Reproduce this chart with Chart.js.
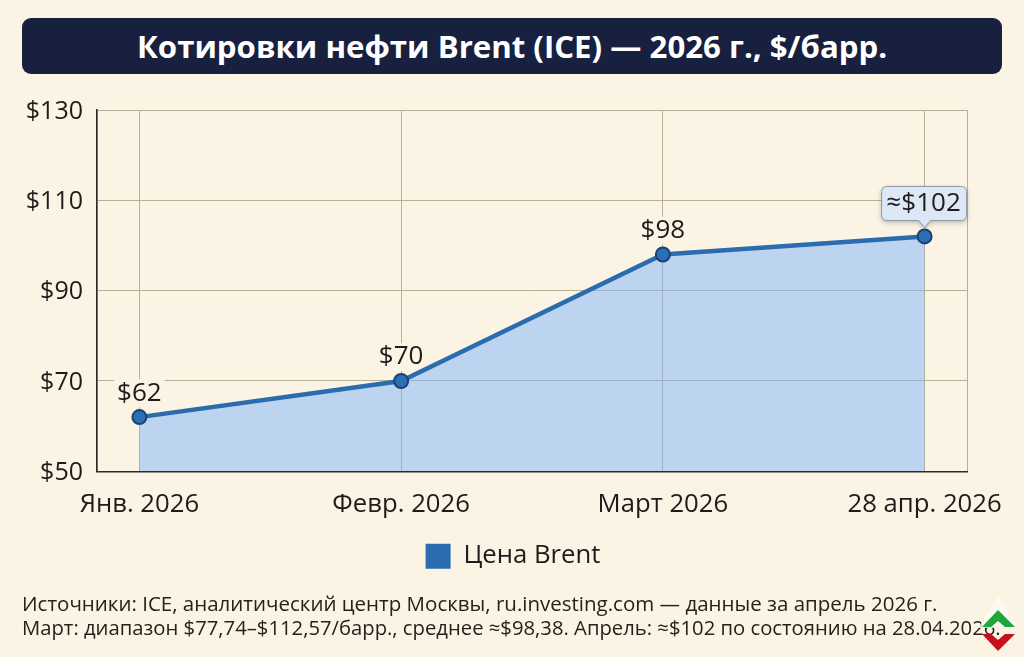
<!DOCTYPE html>
<html lang="ru">
<head>
    <meta charset="UTF-8">
    <title>Котировки нефти Brent (ICE)</title>
    <script src="https://cdn.jsdelivr.net/npm/chart.js"></script>
    <style>
        html, body {
            margin: 0;
            padding: 0;
            background: #fbf4e4;
            font-family: "Open Sans", sans-serif;
            overflow: hidden;
        }
        .page {
            position: relative;
            width: 1024px;
            height: 657px;
        }
        .banner {
            position: absolute;
            left: 22px;
            top: 18px;
            width: 980px;
            height: 56px;
            line-height: 56px;
            border-radius: 9px;
            background: #18203f;
            color: #fff;
            font-size: 31.2px;
            font-weight: 700;
            text-align: center;
        }
        .chart-box {
            position: absolute;
            left: 0;
            top: 0;
            width: 1024px;
            height: 590px;
        }
        .notes {
            position: absolute;
            left: 22px;
            top: 591px;
            font-size: 20.5px;
            line-height: 24px;
            color: #24221d;
            white-space: nowrap;
        }
        .notes span {
            font-size: 20.25px;
        }
        .badge {
            position: absolute;
            left: 0;
            top: 0;
        }
    </style>
</head>
<body>
<div class="page">
    <div class="chart-box"><canvas id="brentChart"></canvas></div>
    <div class="banner">Котировки нефти Brent (ICE) — 2026 г., $/барр.</div>
    <div class="notes">
        Источники: ICE, аналитический центр Москвы, ru.investing.com — данные за апрель 2026 г.<br>
        <span>Март: диапазон $77,74–$112,57/барр., среднее ≈$98,38. Апрель: ≈$102 по состоянию на 28.04.2026.</span>
    </div>
    <svg class="badge" width="1024" height="657">
        <polygon points="998,596 1018,628 978,628" fill="#fdfaf2" opacity="0.8"/>
        <polygon points="998,610 1015,627 1005,627 998,621 991,627 982,627" fill="#1ea83c"/>
        <polygon points="982,634 991,634 998,640 1005,634 1015,634 998,651" fill="#c4111d"/>
    </svg>
</div>

<script>
    const months = ['Янв. 2026', 'Февр. 2026', 'Март 2026', '28 апр. 2026'];
    const prices = [62, 70, 98, 102];
    const priceLabels = ['$62', '$70', '$98', '≈$102'];
    const yTicks = [50, 70, 90, 110, 130];
    const seriesName = 'Цена Brent';

    const FONT = '"Open Sans", sans-serif';
    const INK = '#1d1c1a';
    const GRID = '#b9af97';
    const LINE = '#2a6cad';
    const X_MARGIN = 0.162; // room left and right of the first and last month
    const RIGHT_PAD = 57;

    // price labels above the points, the last one sits in a callout
    const labelPlugin = {
        id: 'priceLabels',
        // legend is centred on the page, not on the space left of the right padding
        afterLayout(chart) {
            chart.legend.left += RIGHT_PAD / 2 + 1;
            chart.legend.right += RIGHT_PAD / 2 + 1;
        },
        // clear the grid behind the plain labels
        beforeDatasetsDraw(chart) {
            const ctx = chart.ctx;
            ctx.save();
            ctx.font = '26px ' + FONT;
            ctx.fillStyle = '#fbf4e4';
            chart.getDatasetMeta(0).data.forEach((pt, i) => {
                const text = priceLabels[i];
                if (text.startsWith('≈')) return;
                const w = ctx.measureText(text).width;
                ctx.fillRect(pt.x - w / 2 - 3, pt.y - 38, w + 6, 28);
            });
            ctx.restore();
        },
        afterDatasetsDraw(chart) {
            const ctx = chart.ctx;
            ctx.save();
            ctx.font = '26px ' + FONT;
            ctx.textAlign = 'center';
            ctx.textBaseline = 'middle';
            chart.getDatasetMeta(0).data.forEach((pt, i) => {
                const text = priceLabels[i];
                if (text.startsWith('≈')) {
                    drawCallout(ctx, pt.x, pt.y, text);
                    return;
                }
                ctx.fillStyle = INK;
                ctx.fillText(text, pt.x, pt.y - 24);
            });
            ctx.restore();
        }
    };

    function drawCallout(ctx, x, y, text) {
        const left = x - 43, right = x + 42, top = y - 50, bottom = y - 16, r = 5;
        ctx.save();
        ctx.shadowColor = 'rgba(60, 60, 60, 0.35)';
        ctx.shadowBlur = 5;
        ctx.shadowOffsetY = 2;
        ctx.beginPath();
        ctx.moveTo(left + r, top);
        ctx.arcTo(right, top, right, bottom, r);
        ctx.arcTo(right, bottom, x + 6, bottom, r);
        ctx.lineTo(x + 6, bottom);
        ctx.lineTo(x, y - 9);
        ctx.lineTo(x - 6, bottom);
        ctx.arcTo(left, bottom, left, top, r);
        ctx.arcTo(left, top, right, top, r);
        ctx.closePath();
        ctx.fillStyle = '#dde8f6';
        ctx.fill();
        ctx.shadowColor = 'transparent';
        ctx.lineWidth = 1;
        ctx.strokeStyle = '#8b98a8';
        ctx.stroke();
        ctx.restore();
        ctx.fillStyle = INK;
        ctx.fillText(text, x - 1, (top + bottom) / 2);
    }

    new Chart(document.getElementById('brentChart').getContext('2d'), {
        type: 'line',
        data: {
            datasets: [{
                label: seriesName,
                data: prices.map((p, i) => ({ x: i, y: p })),
                borderColor: LINE,
                borderWidth: 4.5,
                backgroundColor: 'rgba(125, 180, 250, 0.5)',
                fill: 'origin',
                tension: 0,
                pointRadius: 7,
                pointBackgroundColor: '#2a70b8',
                pointBorderColor: '#1e426f',
                pointBorderWidth: 2
            }]
        },
        options: {
            responsive: true,
            maintainAspectRatio: false,
            animation: false,
            layout: { padding: { top: 110, right: RIGHT_PAD, left: 0, bottom: 11 } },
            scales: {
                x: {
                    type: 'linear',
                    min: -X_MARGIN,
                    max: months.length - 1 + X_MARGIN,
                    afterBuildTicks(scale) {
                        const values = [-X_MARGIN, ...months.map((m, i) => i), months.length - 1 + X_MARGIN];
                        scale.ticks = values.map(v => ({ value: v }));
                    },
                    afterFit(scale) { scale.height = 62; },
                    ticks: {
                        autoSkip: false,
                        maxRotation: 0,
                        padding: 18,
                        color: INK,
                        font: { family: FONT, size: 25.7 },
                        callback: v => months[v] ?? ''
                    },
                    grid: { color: GRID, lineWidth: 1, drawTicks: false },
                    border: { color: '#2c2a26', width: 1.5 }
                },
                y: {
                    min: yTicks[0],
                    max: yTicks[yTicks.length - 1],
                    afterBuildTicks(scale) {
                        scale.ticks = yTicks.map(v => ({ value: v }));
                    },
                    afterFit(scale) { scale.width = 97; },
                    ticks: {
                        padding: 14,
                        labelOffset: 1.5,
                        color: INK,
                        font: { family: FONT, size: 25 },
                        callback: v => '$' + v
                    },
                    grid: { color: GRID, lineWidth: 1, drawTicks: false },
                    border: { color: '#2c2a26', width: 1.5 }
                }
            },
            plugins: {
                tooltip: { enabled: false },
                legend: {
                    position: 'bottom',
                    labels: {
                        boxWidth: 25,
                        boxHeight: 25,
                        padding: 10,
                        color: INK,
                        font: { family: FONT, size: 25.7 },
                        generateLabels: () => [{
                            text: seriesName,
                            fillStyle: LINE,
                            strokeStyle: LINE,
                            lineWidth: 0,
                            fontColor: INK,
                            datasetIndex: 0
                        }]
                    }
                }
            }
        },
        plugins: [labelPlugin]
    });
</script>
</body>
</html>
